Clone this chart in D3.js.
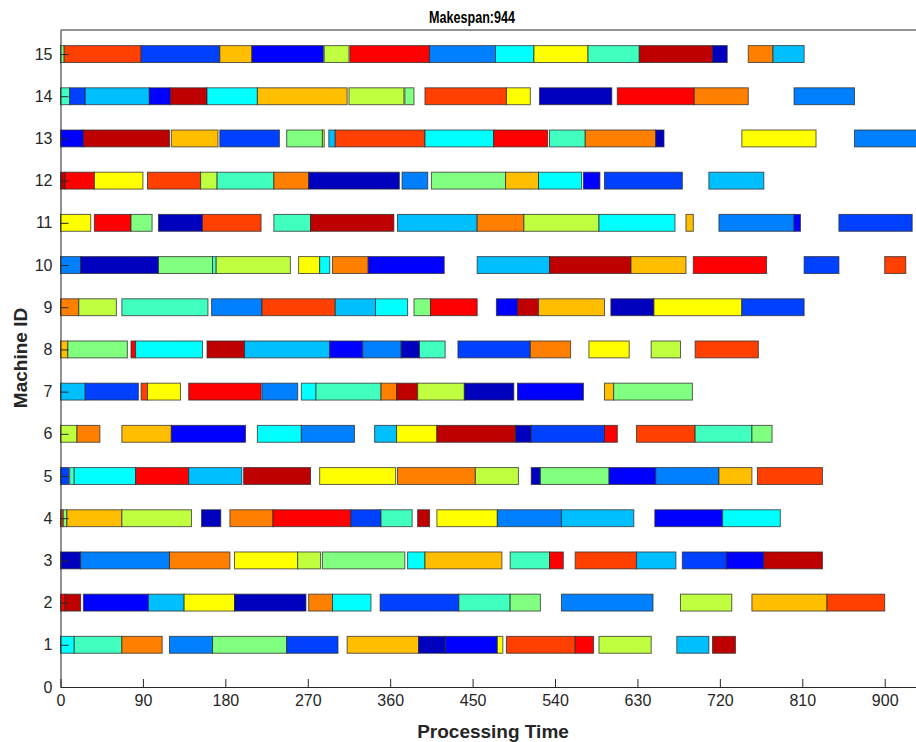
<!DOCTYPE html>
<html>
<head>
<meta charset="utf-8">
<script src="https://cdn.jsdelivr.net/npm/d3@7"></script>
<style>
  body { margin: 0; background: #fff; }
  svg { font-family: "Liberation Sans", Arial, Helvetica, sans-serif; }
</style>
</head>
<body>
<div id="chart"></div>
<script>
// each operation: [job, start, end]
var m1 = [[6,0,15],[7,15,67],[12,67,111],[4,119,166],[8,166,247],[3,247,303],[11,313,391],[1,391,420],[2,420,477],[10,477,483],[13,487,562],[14,562,582],[9,588,645],[5,673,708],[15,712,737]];
var m2 = [[14,0,5],[15,5,22],[2,25,96],[5,96,135],[10,135,190],[1,190,268],[12,271,297],[6,297,339],[3,349,435],[7,435,491],[8,491,524],[4,547,647],[9,677,733],[11,755,837],[13,837,900]];
var m3 = [[1,0,22],[4,22,119],[12,119,185],[10,190,259],[9,259,284],[8,286,376],[6,379,398],[11,398,482],[7,491,534],[14,534,549],[13,562,629],[5,629,672],[3,679,727],[2,727,768],[15,768,832]];
var m4 = [[13,0,3],[8,3,7],[11,7,67],[9,67,143],[1,154,175],[12,185,232],[14,232,317],[3,317,350],[7,350,384],[15,390,403],[10,411,477],[4,477,547],[5,547,626],[2,649,723],[6,723,786]];
var m5 = [[3,0,9],[7,10,15],[6,15,82],[14,82,140],[5,140,198],[15,200,273],[10,283,366],[12,368,453],[9,453,500],[1,514,524],[8,524,599],[2,599,650],[4,650,719],[11,719,755],[13,761,832]];
var m6 = [[9,0,18],[12,18,43],[11,67,121],[2,121,202],[6,215,263],[4,263,321],[5,343,367],[10,367,411],[15,411,497],[1,497,514],[3,514,594],[14,594,608],[13,629,693],[7,693,755],[8,755,777]];
var m7 = [[5,0,27],[3,27,85],[13,88,95],[10,95,131],[14,140,219],[4,220,259],[6,263,279],[7,279,350],[12,350,367],[15,367,390],[9,390,441],[1,441,495],[2,499,571],[11,594,604],[8,604,690]];
var m8 = [[11,0,8],[8,8,73],[14,77,82],[6,82,155],[15,160,201],[5,201,294],[2,294,330],[4,330,372],[1,372,392],[7,392,420],[3,434,513],[12,513,557],[10,577,621],[9,645,677],[13,693,762]];
var m9 = [[12,0,20],[9,20,61],[7,67,161],[4,165,220],[13,220,300],[5,300,344],[6,344,379],[8,386,404],[14,404,455],[2,476,499],[15,499,522],[11,522,594],[1,601,648],[10,648,744],[3,744,812]];
var m10 = [[4,0,22],[1,22,107],[8,107,166],[7,166,170],[9,170,251],[10,260,283],[6,283,294],[12,297,336],[2,336,419],[5,455,534],[15,534,623],[11,623,683],[14,691,771],[3,812,850],[13,900,923]];
var m11 = [[10,0,33],[14,37,77],[8,77,100],[1,107,155],[13,155,219],[7,233,273],[15,273,364],[5,368,455],[12,455,506],[9,506,588],[6,588,671],[11,683,691],[4,719,801],[2,801,808],[3,850,930]];
var m12 = [[15,0,5],[14,5,37],[10,37,90],[13,95,153],[9,153,171],[7,171,233],[12,233,271],[1,271,370],[4,373,401],[8,405,486],[11,486,522],[6,522,569],[2,571,589],[3,594,679],[5,708,768]];
var m13 = [[2,0,25],[15,25,119],[11,121,172],[3,174,239],[8,247,286],[9,286,288],[5,293,300],[13,300,398],[6,398,473],[14,473,532],[7,534,573],[12,573,650],[1,650,659],[10,744,825],[4,867,944]];
var m14 = [[7,0,10],[3,10,27],[5,27,97],[2,97,120],[15,120,160],[6,160,215],[11,215,313],[9,315,375],[8,376,386],[13,398,487],[10,487,513],[1,523,602],[14,608,692],[12,692,751],[4,801,867]];
var m15 = [[8,0,4],[13,4,88],[3,88,174],[11,174,209],[2,209,287],[9,288,315],[14,316,403],[4,403,475],[6,475,517],[10,517,576],[7,576,632],[15,632,712],[1,712,728],[12,751,778],[5,778,812]];

var schedule = [m1, m2, m3, m4, m5, m6, m7, m8, m9, m10, m11, m12, m13, m14, m15];
var machineTicks = d3.range(0, 16);
var timeTicks = [0, 90, 180, 270, 360, 450, 540, 630, 720, 810, 900];
var makespan = 944;
var nJobs = 15;

// matlab style jet colormap
function jet(m) {
  var n = Math.ceil(m / 4);
  var u = [];
  for (var i = 1; i <= n; i++) u.push(i / n);
  for (var i = 1; i < n; i++) u.push(1);
  for (var i = n; i >= 1; i--) u.push(i / n);
  var g0 = Math.ceil(n / 2) - (m % 4 == 1 ? 1 : 0);
  var cols = [];
  for (var k = 1; k <= m; k++) cols.push([0, 0, 0]);
  u.forEach(function (v, idx) {
    var g = g0 + idx + 1, r = g + n, b = g - n;
    if (g >= 1 && g <= m) cols[g - 1][1] = v;
    if (r >= 1 && r <= m) cols[r - 1][0] = v;
    if (b >= 1 && b <= m) cols[b - 1][2] = v;
  });
  return cols.map(function (c) {
    return d3.rgb(Math.round(c[0] * 255), Math.round(c[1] * 255), Math.round(c[2] * 255)).toString();
  });
}
var colors = jet(nJobs);

var width = 916, height = 742;
var svg = d3.select("#chart").append("svg")
  .attr("width", width)
  .attr("height", height);

var x = d3.scaleLinear().domain([0, makespan]).range([60.5, 925]);
var y = d3.scaleLinear().domain([0, 15.57]).range([687, 30]);
var barH = 0.4;

var ops = [];
schedule.forEach(function (list, i) {
  list.forEach(function (d) {
    ops.push({ machine: i + 1, job: d[0], start: d[1], end: d[2] });
  });
});

svg.append("g").selectAll("rect")
  .data(ops)
  .enter().append("rect")
  .attr("x", function (d) { return x(d.start); })
  .attr("y", function (d) { return y(d.machine + barH / 2); })
  .attr("width", function (d) { return x(d.end) - x(d.start); })
  .attr("height", function (d) { return y(d.machine - barH / 2) - y(d.machine + barH / 2); })
  .attr("fill", function (d) { return colors[d.job - 1]; })
  .attr("stroke", "#2b2b2b")
  .attr("stroke-opacity", 0.75)
  .attr("stroke-width", 1);

// axes
var xAxis = svg.append("g")
  .attr("transform", "translate(0,687)")
  .call(d3.axisBottom(x).tickValues(timeTicks).tickSizeInner(-8).tickSizeOuter(0).tickPadding(8));
var yAxis = svg.append("g")
  .attr("transform", "translate(60.5,0)")
  .call(d3.axisLeft(y).tickValues(machineTicks).tickSizeInner(-8).tickSizeOuter(0).tickPadding(8));

[xAxis, yAxis].forEach(function (ax) {
  ax.select(".domain").attr("stroke", "#262626");
  ax.selectAll(".tick line").attr("stroke", "#262626");
  ax.selectAll(".tick text").attr("fill", "#262626").style("font-size", "16px");
});

// top box line
svg.append("line")
  .attr("x1", 60.5).attr("x2", 925)
  .attr("y1", 30).attr("y2", 30)
  .attr("stroke", "#262626");

svg.append("text")
  .attr("x", 472).attr("y", 23)
  .attr("text-anchor", "middle")
  .attr("textLength", 86)
  .attr("lengthAdjust", "spacingAndGlyphs")
  .style("font-size", "16px").style("font-weight", "bold")
  .attr("fill", "#000")
  .text("Makespan:" + makespan);

svg.append("text")
  .attr("x", 493).attr("y", 738)
  .attr("text-anchor", "middle")
  .style("font-size", "19px").style("font-weight", "bold")
  .attr("fill", "#262626")
  .text("Processing Time");

svg.append("text")
  .attr("transform", "translate(27,358) rotate(-90)")
  .attr("text-anchor", "middle")
  .style("font-size", "19px").style("font-weight", "bold")
  .attr("fill", "#262626")
  .text("Machine ID");
</script>
</body>
</html>
